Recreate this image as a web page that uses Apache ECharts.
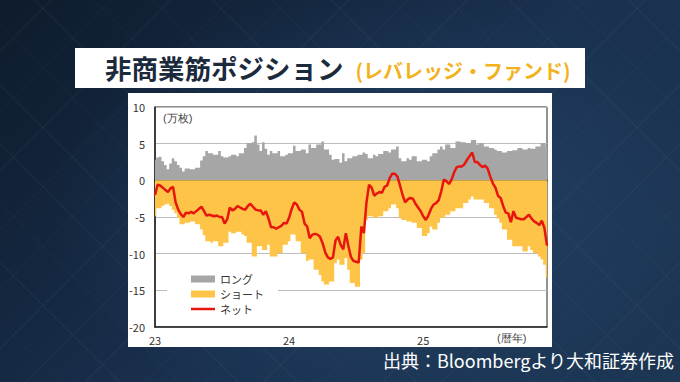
<!DOCTYPE html>
<html>
<head>
<meta charset="utf-8">
<script src="https://cdn.jsdelivr.net/npm/echarts@6/dist/echarts.min.js"></script>
<style>
  html, body { margin:0; padding:0; }
  body {
    width:680px; height:382px; overflow:hidden; position:relative;
    background-color:#17293f;
    background-image:
      radial-gradient(ellipse 70% 80% at 58% 55%, rgba(42,78,115,0.55), rgba(10,20,35,0) 72%),
      repeating-linear-gradient(45deg, rgba(255,255,255,0.03) 0 1px, transparent 1px 42px),
      repeating-linear-gradient(-45deg, rgba(255,255,255,0.03) 0 1px, transparent 1px 42px),
      linear-gradient(135deg, #0e1b2c 0%, #1a3150 55%, #1c3654 100%);
    font-family:"Noto Sans CJK JP","Noto Sans",sans-serif;
  }
  #titlebox { position:absolute; left:75px; top:48px; width:510px; height:40px; background:#fff; }
  #title { position:absolute; left:30px; top:0; height:40px; line-height:40px; white-space:nowrap; }
  #title .main { font-size:26.5px; font-weight:bold; color:#1b2a3c; }
  #title .sub { font-size:20px; font-weight:bold; color:#f2b21c; margin-left:12px; }
  #panel { position:absolute; left:128px; top:93px; width:424px; height:254px; background:#fff; }
  #source { position:absolute; right:6px; top:347px; font-size:18px; color:#fff; white-space:nowrap; line-height:26px; }
  #chart { position:absolute; left:0; top:0; width:680px; height:382px; }
</style>
</head>
<body>
<div id="titlebox"><div id="title"><span class="main">非商業筋ポジション</span><span class="sub">(レバレッジ・ファンド)</span></div></div>
<div id="panel"></div>
<div id="source">出典：Bloombergより大和証券作成</div>
<div id="chart"></div>
<script>
// ---- data (万枚), weekly from Jan 2023 ----
const longValues = [2.8,3.1,3.2,2.6,2.1,1.5,2.3,3.0,2.6,2.1, 1.7,1.2,1.6,1.6,1.5,1.5,1.7,1.7,2.7,3.3,
  4.0,3.7,3.7,3.5,3.5,4.0,3.3,3.1,3.1,3.3, 3.5,3.5,3.3,3.7,3.7,4.4,5.1,5.1,5.2,6.1,
  4.9,4.0,5.2,4.3,3.5,4.0,3.7,3.7,4.0,3.3, 3.3,3.5,3.7,3.7,4.7,4.0,4.0,4.2,4.2,3.7,
  4.9,4.4,4.4,4.9,4.9,5.3,4.2,4.2,3.5,2.8, 2.9,2.9,2.4,3.7,2.6,3.0,3.0,3.3,3.3,3.5,
  3.5,3.8,3.6,3.0,3.0,3.5,3.3,3.6,3.6,4.0, 4.0,3.8,4.2,4.2,4.6,3.0,2.6,2.6,3.0,2.8,
  3.3,3.3,2.6,2.6,2.8,2.8,2.6,3.3,3.7,3.7, 4.2,4.6,4.2,4.9,4.9,4.4,4.4,5.3,5.3,5.2,
  5.2,5.1,5.1,5.5,5.5,4.9,5.1,5.1,4.6,4.6, 4.4,4.4,4.2,4.0,4.0,3.8,3.8,4.0,4.0,4.1,
  4.1,4.4,4.4,4.2,4.2,4.4,4.3,4.3,4.6,4.6, 5.1,5.1,4.6];
const shortValues = [-4.9,-3.8,-3.8,-3.5,-3.3,-3.2,-3.5,-4.0,-4.5,-5.1, -6.0,-6.0,-5.8,-5.8,-5.6,-5.6,-6.0,-6.0,-6.7,-7.5,
  -8.3,-8.3,-8.5,-8.3,-8.3,-9.0,-9.0,-8.5,-8.5,-7.0, -7.2,-7.2,-7.0,-7.0,-7.4,-7.6,-8.5,-8.5,-10.4,-10.4,
  -9.0,-9.0,-9.5,-9.5,-8.8,-10.4,-10.4,-10.4,-9.9,-9.9, -8.8,-8.8,-8.3,-7.4,-7.4,-8.3,-8.3,-9.9,-9.9,-11.0,
  -10.8,-10.8,-12.2,-12.2,-12.9,-13.8,-14.2,-14.2,-13.8,-13.8, -11.3,-10.8,-11.5,-11.5,-10.6,-12.2,-14.0,-14.0,-14.5,-14.5,
  -10.8,-9.9,-5.4,-4.9,-4.9,-5.1,-5.1,-4.9,-4.9,-4.2, -4.2,-3.8,-3.3,-3.3,-3.8,-5.1,-5.4,-5.4,-5.6,-5.6,
  -5.8,-5.8,-6.5,-6.5,-7.6,-7.6,-7.2,-6.3,-6.7,-6.7, -5.8,-5.1,-5.1,-4.7,-4.7,-4.2,-4.2,-3.8,-3.8,-3.8,
  -3.1,-3.1,-2.6,-2.2,-2.6,-2.6,-2.6,-2.6,-3.1,-3.1, -3.8,-3.8,-4.7,-5.2,-5.8,-6.7,-6.7,-8.1,-8.1,-9.0,
  -9.0,-9.0,-9.0,-9.7,-9.7,-9.0,-9.5,-9.9,-9.9,-10.4, -10.8,-11.5,-13.3];
const netValues = [-2.0,-0.6,-0.7,-1.0,-1.3,-1.6,-1.1,-0.9,-3.0,-4.0, -4.6,-5.0,-4.4,-4.5,-4.3,-4.5,-4.2,-3.9,-3.6,-4.2,
  -4.8,-4.7,-4.8,-4.9,-4.8,-5.0,-5.0,-5.9,-5.3,-3.7, -4.1,-3.9,-3.5,-3.7,-3.9,-4.0,-3.5,-3.2,-3.6,-4.0,
  -4.1,-4.1,-4.7,-4.2,-5.2,-6.4,-6.4,-6.6,-6.4,-6.2, -5.8,-5.9,-5.1,-3.9,-3.0,-3.3,-4.0,-4.3,-5.9,-6.3,
  -7.9,-7.4,-7.3,-7.4,-7.7,-8.6,-9.8,-10.5,-10.7,-10.5, -8.2,-7.7,-8.8,-9.4,-7.2,-9.0,-10.5,-11.0,-11.1,-11.2,
  -6.3,-7.2,-3.0,-0.6,-1.0,-2.1,-1.8,-1.6,-1.7,-0.9, -0.7,0.3,0.9,0.9,0.5,-0.7,-2.0,-3.0,-2.6,-2.4,
  -2.5,-3.2,-3.7,-4.2,-4.9,-5.4,-4.8,-3.9,-3.3,-3.1, -2.7,-1.5,0.1,-0.1,-0.5,0.1,1.1,1.8,1.9,1.9,
  2.2,2.8,3.3,3.8,2.5,2.5,2.1,1.8,2.0,1.6, 0.5,-0.4,-1.0,-2.1,-2.4,-3.5,-4.4,-4.5,-5.7,-4.2,
  -5.1,-5.2,-5.3,-5.3,-5.0,-4.7,-5.2,-5.6,-5.8,-6.1, -5.5,-6.5,-8.9];
const yearTickIndex = [0, 52, 104];
const yearLabels = ['23', '24', '25'];
const seriesNames = ['ロング', 'ショート', 'ネット'];
const colors = {long: '#a6a6a6', short: '#fdc448', net: '#e8150d'};

// weekly category dates
const weekDates = [];
(function(){
  const d0 = Date.UTC(2023, 0, 3);
  for (let i = 0; i < longValues.length; i++) {
    weekDates.push(new Date(d0 + i * 7 * 86400000).toISOString().slice(0, 10));
  }
})();

const FONT = '"Noto Sans CJK JP","Noto Sans",sans-serif';
const chart = echarts.init(document.getElementById('chart'), null, {renderer: 'svg', width: 680, height: 382});
chart.setOption({
  backgroundColor: 'transparent',
  animation: false,
  textStyle: {fontFamily: FONT},
  grid: {left: 155, top: 107, width: 392, height: 220, show: true, backgroundColor: '#fff', borderColor: '#222', borderWidth: 1},
  legend: {
    orient: 'vertical', left: 167, top: 270, padding: [3, 14, 3, 24],
    backgroundColor: '#fff', itemWidth: 24, itemHeight: 7, itemGap: 3,
    textStyle: {fontSize: 11, lineHeight: 12, color: '#333', fontFamily: FONT},
    data: [
      {name: seriesNames[0], icon: 'rect', itemStyle: {color: colors.long}},
      {name: seriesNames[1], icon: 'rect', itemStyle: {color: colors.short}},
      {name: seriesNames[2], icon: 'path://M0 0H48V5H0Z', itemStyle: {color: colors.net}}
    ]
  },
  xAxis: [{
    type: 'category', data: weekDates, boundaryGap: false,
    axisLine: {onZero: false, lineStyle: {color: '#222', width: 1.5}},
    axisTick: {show: false},
    axisLabel: {
      interval: function (i) { return yearTickIndex.indexOf(i) >= 0; },
      formatter: function (v, i) { const k = yearTickIndex.indexOf(i); return k >= 0 ? yearLabels[k] : ''; },
      color: '#333', fontSize: 11, margin: 7, fontFamily: FONT
    },
    splitLine: {show: false}
  }, {
    type: 'category', data: weekDates, boundaryGap: false, position: 'bottom',
    axisLine: {onZero: true, lineStyle: {color: '#111', width: 1.3}},
    axisTick: {show: true, inside: true, length: 3, interval: function (i) { return i > 0 && yearTickIndex.indexOf(i) >= 0; }, lineStyle: {color: '#111'}},
    axisLabel: {show: false},
    splitLine: {show: false}
  }],
  yAxis: {
    type: 'value', min: -20, max: 10, interval: 5,
    axisLine: {show: true, lineStyle: {color: '#222', width: 1.5}},
    axisTick: {show: false},
    axisLabel: {color: '#333', fontSize: 11, margin: 10, fontFamily: FONT},
    splitLine: {lineStyle: {color: '#bdbdbd', width: 1}}
  },
  graphic: [
    {type: 'text', left: 163, top: 112, style: {text: '(万枚)', fontSize: 11, fill: '#444', font: '11px ' + FONT}},
    {type: 'text', left: 497, top: 332, style: {text: '(暦年)', fontSize: 11, fill: '#444', font: '11px ' + FONT}}
  ],
  series: [
    {name: seriesNames[0], type: 'line', step: 'middle', xAxisIndex: 0, data: longValues, symbol: 'none',
      lineStyle: {width: 0}, itemStyle: {color: colors.long}, areaStyle: {color: colors.long, opacity: 1}, z: 2},
    {name: seriesNames[1], type: 'line', step: 'middle', xAxisIndex: 0, data: shortValues, symbol: 'none',
      lineStyle: {width: 0}, itemStyle: {color: colors.short}, areaStyle: {color: colors.short, opacity: 1}, z: 2},
    {name: seriesNames[2], type: 'line', xAxisIndex: 0, data: netValues, symbol: 'none', z: 5,
      lineStyle: {color: colors.net, width: 2.5}, itemStyle: {color: colors.net}}
  ]
});
</script>
</body>
</html>
